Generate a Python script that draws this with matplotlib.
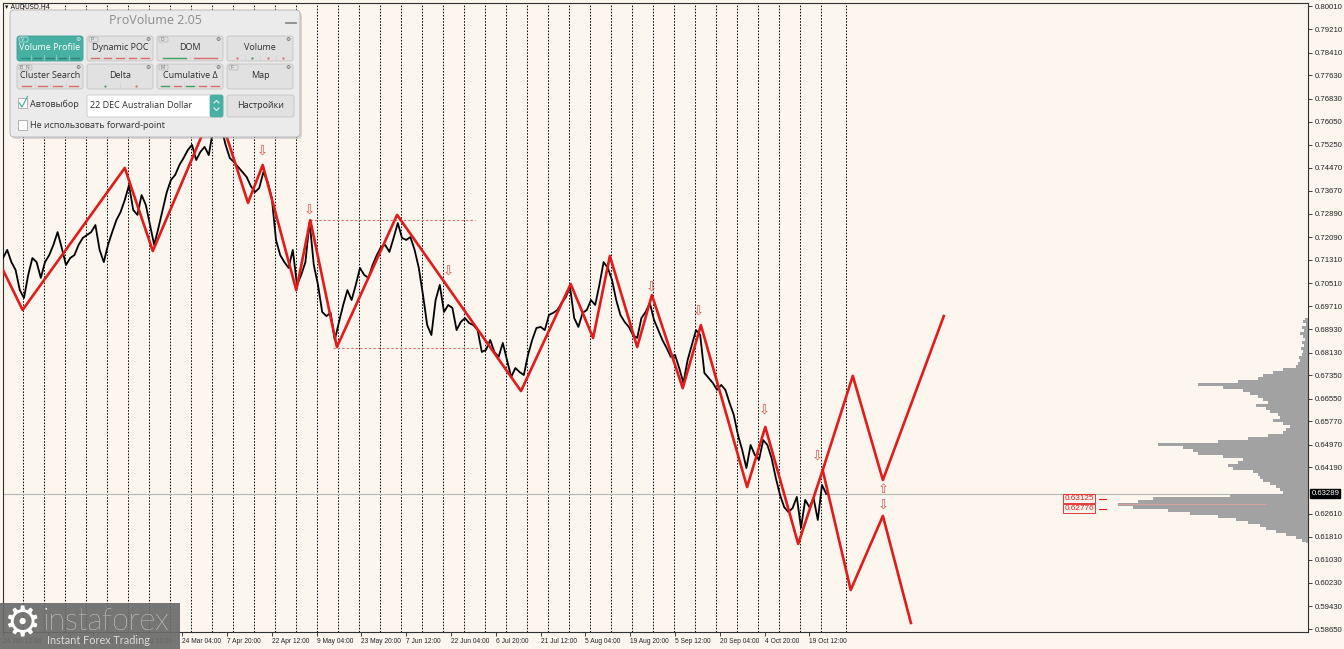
import numpy as np
import matplotlib
matplotlib.use("Agg")
import matplotlib.pyplot as plt
from matplotlib.patches import FancyBboxPatch, Rectangle
import matplotlib.transforms as mtransforms

# ------------------------------------------------------------------ data
symbol_title = "AUDUSD,H4"
bars_per_sample = 6          # one value every 6 H4 bars
price_close = [
    0.7137, 0.7165, 0.7123, 0.7096, 0.7027, 0.7000, 0.7079, 0.7137, 0.7123, 0.7069,
    0.7123, 0.7147, 0.7182, 0.7226, 0.7171, 0.7113, 0.7137, 0.7147, 0.7182, 0.7206,
    0.7216, 0.7226, 0.7250, 0.7165, 0.7123, 0.7182, 0.7226, 0.7267, 0.7295, 0.7336,
    0.7387, 0.7302, 0.7285, 0.7353, 0.7319, 0.7250, 0.7182, 0.7240, 0.7302, 0.7363,
    0.7405, 0.7422, 0.7456, 0.7480, 0.7507, 0.7525, 0.7473, 0.7501, 0.7518, 0.7490,
    0.7576, 0.7658, 0.7583, 0.7525, 0.7480, 0.7466, 0.7449, 0.7432, 0.7415, 0.7384,
    0.7363, 0.7377, 0.7432, 0.7398, 0.7343, 0.7199, 0.7147, 0.7123, 0.7103, 0.7165,
    0.7045, 0.7079, 0.7123, 0.7261, 0.7113, 0.7045, 0.6952, 0.6938, 0.6949, 0.6856,
    0.6918, 0.6976, 0.7027, 0.6993, 0.7045, 0.7103, 0.7079, 0.7069, 0.7113, 0.7147,
    0.7175, 0.7182, 0.7158, 0.7206, 0.7257, 0.7206, 0.7199, 0.7209, 0.7165, 0.7103,
    0.7010, 0.6907, 0.6873, 0.6993, 0.7045, 0.6952, 0.6976, 0.6966, 0.6890, 0.6918,
    0.6931, 0.6914, 0.6907, 0.6890, 0.6815, 0.6822, 0.6856, 0.6815, 0.6798, 0.6846,
    0.6787, 0.6729, 0.6760, 0.6746, 0.6736, 0.6805, 0.6856, 0.6897, 0.6901, 0.6890,
    0.6942, 0.6949, 0.6959, 0.6983, 0.7003, 0.7038, 0.6931, 0.6901, 0.6949, 0.6959,
    0.6993, 0.6976, 0.7045, 0.7123, 0.7103, 0.7062, 0.6993, 0.6942, 0.6918, 0.6901,
    0.6873, 0.6863, 0.6931, 0.6952, 0.6983, 0.6925, 0.6890, 0.6856, 0.6829, 0.6798,
    0.6805, 0.6760, 0.6709, 0.6787, 0.6839, 0.6890, 0.6873, 0.6743, 0.6726, 0.6709,
    0.6685, 0.6702, 0.6685, 0.6640, 0.6599, 0.6530, 0.6479, 0.6417, 0.6496, 0.6462,
    0.6445, 0.6513, 0.6496, 0.6451, 0.6383, 0.6325, 0.6283, 0.6266, 0.6280, 0.6318,
    0.6212, 0.6308, 0.6283, 0.6314, 0.6239, 0.6359, 0.6329,
]

zz_bars = [0, 28, 174, 214, 304, 350, 371, 419, 439, 477, 563, 740, 811, 843,
           867, 906, 927, 971, 997, 1063, 1089, 1136, 1171]
zz_prices = [0.7096, 0.6959, 0.7446, 0.7161, 0.7669, 0.7326, 0.7456, 0.7027,
             0.7267, 0.6832, 0.7285, 0.6681, 0.7048, 0.6863, 0.7144, 0.6832,
             0.7010, 0.6691, 0.6907, 0.6352, 0.6558, 0.6157, 0.6410]

proj_up_bars = [1171, 1214, 1257, 1344]
proj_up_prices = [0.6410, 0.6733, 0.6376, 0.6938]
proj_dn_bars = [1171, 1211, 1257, 1297]
proj_dn_prices = [0.6410, 0.5999, 0.6253, 0.5886]

signal_down_bars = [370, 437, 636, 926, 993, 1087, 1164, 1257]
signal_down_prices = [0.7501, 0.7298, 0.7089, 0.7034, 0.6952, 0.6613, 0.6455, 0.6287]
signal_up_bars = [1257]
signal_up_prices = [0.6342]

level_prices = [0.7267, 0.6828]
level_start_bars = [439, 471]
level_end_bars = [674, 681]

week_first_sep = 28
week_bars = 30
week_last_sep = 1204

date_labels = ["24 Jan 12:00", "8 Feb 04:00", "22 Feb 20:00", "9 Mar 12:00",
               "24 Mar 04:00", "7 Apr 20:00", "22 Apr 12:00", "9 May 04:00",
               "23 May 20:00", "7 Jun 12:00", "22 Jun 04:00", "6 Jul 20:00",
               "21 Jul 12:00", "5 Aug 04:00", "19 Aug 20:00", "5 Sep 12:00",
               "20 Sep 04:00", "4 Oct 20:00", "19 Oct 12:00"]
date_label_step = 64

price_ticks = [0.80010, 0.79210, 0.78410, 0.77630, 0.76830, 0.76050, 0.75250,
               0.74470, 0.73670, 0.72890, 0.72090, 0.71310, 0.70510, 0.69710,
               0.68930, 0.68130, 0.67350, 0.66550, 0.65770, 0.64970, 0.64190,
               0.62610, 0.61810, 0.61030, 0.60230, 0.59430, 0.58650]

current_price = 0.63289
marked_levels = [0.63125, 0.62776]

profile_top = 0.6931
profile_bottom = 0.6160
profile_vol = [3, 5, 2, 6, 4, 8, 5, 3, 6, 4, 7, 5, 6, 9, 8, 10, 12, 25, 35, 45,
               50, 70, 110, 85, 65, 58, 50, 45, 40, 52, 42, 38, 30, 28, 35, 25,
               18, 22, 25, 40, 60, 90, 150, 125, 115, 110, 85, 65, 70, 80, 75,
               55, 50, 48, 45, 38, 32, 28, 25, 78, 155, 170, 190, 175, 140, 118,
               90, 72, 60, 48, 42, 32, 22, 12, 6, 2]

panel_title = "ProVolume 2.05"
panel_buttons = ["Volume Profile", "Dynamic POC", "DOM", "Volume",
                 "Cluster Search", "Delta", "Cumulative Δ", "Map"]
panel_tags = ["V", "P", "D", "", "B  N", "", "M", "F"]

# ------------------------------------------------------------------ style
BG = "#fdf6ef"
RED = "#e31b1b"
W, H = 1344, 649
PX_PER_BAR = 0.7

plt.rcParams["font.family"] = ["Liberation Sans", "DejaVu Sans"]

fig = plt.figure(figsize=(W / 100, H / 100), dpi=100, facecolor=BG)
ax = fig.add_axes([3 / W, 17 / H, 1305 / W, 629 / H], facecolor=BG)
xmax = 1305 / PX_PER_BAR
ax.set_xlim(0, xmax)
ax.set_ylim(0.58550, 0.80113)

for s in ax.spines.values():
    s.set_color("#303030")
    s.set_linewidth(0.8)

# weekly separators
for b in list(range(week_first_sep, 1180, week_bars)) + [week_last_sep]:
    ax.axvline(b, color="black", lw=0.7, ls=(0, (1.6, 1.6)), zorder=1)

# current price line
ax.axhline(current_price, color="#b5b5b5", lw=0.8, zorder=1)

# volume profile
levels = np.linspace(profile_top, profile_bottom, len(profile_vol))
vol = np.array(profile_vol, dtype=float)
left = xmax - vol / PX_PER_BAR
ax.fill_betweenx(levels, left, xmax, step="mid", color="#a2a2a2", lw=0, zorder=2)
ipoc = int(np.argmax(vol))
ax.plot([left[ipoc], xmax - 60], [levels[ipoc]] * 2, color="#d9a0a0", lw=0.8, zorder=2)

# price
xs = np.arange(len(price_close)) * bars_per_sample
ax.plot(xs, price_close, color="black", lw=1.3, zorder=3)

# level lines
for p, b0, b1 in zip(level_prices, level_start_bars, level_end_bars):
    ax.plot([b0, b1], [p, p], color="#e06a6a", lw=0.8, ls=(0, (2, 2)), zorder=3)

# zigzag + projections
ax.plot(zz_bars, zz_prices, color=RED, lw=1.9, zorder=4, solid_joinstyle="round")
ax.plot(proj_up_bars, proj_up_prices, color=RED, lw=1.9, zorder=4, solid_joinstyle="round")
ax.plot(proj_dn_bars, proj_dn_prices, color=RED, lw=1.9, zorder=4, solid_joinstyle="round")

# signal arrows
for b, p in zip(signal_down_bars, signal_down_prices):
    ax.text(b, p, "\u21e9", color="#e8504a", fontsize=9.5, ha="center", va="center",
            family="DejaVu Sans", zorder=5)
for b, p in zip(signal_up_bars, signal_up_prices):
    ax.text(b, p, "\u21e7", color="#e8504a", fontsize=9.5, ha="center", va="center",
            family="DejaVu Sans", zorder=5)

# marked levels
for p in marked_levels:
    ax.text(1516, p, f"{p:.5f}", color=RED, fontsize=5.9, ha="left", va="center",
            zorder=6, bbox=dict(boxstyle="square,pad=0.12", fc=BG, ec=RED, lw=0.6))
    ax.plot([1566, 1576], [p, p], color=RED, lw=0.8, zorder=6)

# axes ticks
ax.yaxis.tick_right()
ax.set_yticks(price_ticks)
ax.set_yticklabels([f"{v:.5f}" for v in price_ticks])
ax.set_xticks(np.arange(len(date_labels)) * date_label_step)
ax.set_xticklabels(date_labels)
for t in ax.get_xticklabels():
    t.set_horizontalalignment("left")
ax.tick_params(axis="y", direction="out", length=3, width=0.6, colors="#222222",
               labelsize=5.6, pad=2)
ax.tick_params(axis="x", direction="out", length=3, width=0.6, colors="#222222",
               labelsize=4.8, pad=1.5)

trans = mtransforms.blended_transform_factory(ax.transAxes, ax.transData)
ax.text(1.0025, current_price, f"{current_price:.5f}", transform=trans, color="white",
        fontsize=5.6, ha="left", va="center", zorder=7, clip_on=False,
        bbox=dict(boxstyle="square,pad=0.15", fc="black", ec="black"))

# ------------------------------------------------------------------ overlay (panel, logo)
ov = fig.add_axes([0, 0, 1, 1])
ov.set_xlim(0, W)
ov.set_ylim(H, 0)
ov.axis("off")


def rbox(x0, y0, x1, y1, fc, ec, lw=0.6, r=2.5, z=10, alpha=1.0):
    ov.add_patch(FancyBboxPatch((x0, y0), x1 - x0, y1 - y0,
                                boxstyle=f"round,pad=0,rounding_size={r}",
                                fc=fc, ec=ec, lw=lw, zorder=z, alpha=alpha))


ov.text(5, 7, "\u25be " + symbol_title, fontsize=4.8, color="#111111", va="center",
        ha="left", family="DejaVu Sans", zorder=9)

# panel
rbox(12, 12, 302, 139, "#9a9a9a", "none", r=4, z=9, alpha=0.35)
rbox(10, 10, 300, 137, "#ebebeb", "#b9b9b9", lw=0.7, r=4, z=10)
ov.text(155, 20, panel_title, fontsize=9, color="#8c8c8c", ha="center", va="center",
        family="Open Sans", zorder=12)
ov.plot([286, 296], [23, 23], color="#8a8a8a", lw=1.3, zorder=12)

col_x = [17, 87, 157, 227]
row_y = [36, 64]
TEAL = "#47b0a3"
GREEN = "#3f9f5f"
PINK = "#d96b6b"
indicators = [
    ("dash", ["#2d8a7e", "#2f7f75", "#2f7f75", "#2f7f75", "#2f7f75"]),
    ("dash", [PINK] * 5),
    ("line", [GREEN, PINK]),
    ("dot", [PINK, GREEN, PINK, PINK]),
    ("dash", [PINK] * 4),
    ("dot", [GREEN, PINK]),
    ("dash", [GREEN, PINK, GREEN, PINK, PINK]),
    ("none", []),
]
for k, (name, tag, ind) in enumerate(zip(panel_buttons, panel_tags, indicators)):
    x0 = col_x[k % 4]
    y0 = row_y[k // 4]
    x1 = x0 + 66
    y1 = y0 + 25
    active = k == 0
    rbox(x0, y0, x1, y1, TEAL if active else "#e1e1e1",
         "#3f9e92" if active else "#c3c3c3", lw=0.6, r=2.5, z=11)
    if tag:
        tw = 5 + 4 * len(tag.replace(" ", ""))
        rbox(x0 + 2, y0 + 1, x0 + 2 + tw, y0 + 6, "none",
             "#e8f5f3" if active else "#a8a8a8", lw=0.4, r=1.2, z=12)
        ov.text(x0 + 3.5, y0 + 3.6, tag, fontsize=3.6,
                color="#f4f4f4" if active else "#777777", ha="left", va="center", zorder=13)
    ov.text(x1 - 5, y0 + 3.5, "\u2699", fontsize=4.2, color="#f0f0f0" if active else "#555555",
            ha="center", va="center", family="DejaVu Sans", zorder=13)
    ov.text((x0 + x1) / 2, y0 + 12, name, fontsize=6.5,
            color="white" if active else "#2e2e2e", ha="center", va="center",
            family=["Open Sans", "DejaVu Sans"], zorder=13)
    kind, cols = ind
    n = len(cols)
    if n:
        seg = (x1 - x0 - 4) / n
        yy = y0 + 21.5
        for j, c in enumerate(cols):
            cx = x0 + 2 + seg * (j + 0.5)
            if kind == "dash":
                ov.plot([cx - seg * 0.3, cx + seg * 0.3], [yy, yy], color=c, lw=1.0, zorder=13)
            elif kind == "line":
                ov.plot([cx - seg * 0.38, cx + seg * 0.38], [yy, yy], color=c, lw=1.0, zorder=13)
            elif kind == "dot":
                ov.plot([cx], [yy], marker="o", ms=1.6, color=c, mec="none", zorder=13)
            if j > 0:
                ov.plot([x0 + 2 + seg * j] * 2, [yy - 2.5, yy + 2], color="#cfcfcf",
                        lw=0.4, zorder=12)

# checkbox row 1
ov.add_patch(Rectangle((18, 98), 9, 10, fc="white", ec="#a8a8a8", lw=0.6, zorder=12))
ov.plot([19.5, 22, 27.5], [103, 107, 96.5], color=TEAL, lw=0.9, zorder=13)
ov.text(30, 104, "Автовыбор", fontsize=6.5, color="#2e2e2e", ha="left", va="center",
        family=["Open Sans", "DejaVu Sans"], zorder=13)
rbox(87, 95, 223, 117, "white", "#c8c8c8", lw=0.6, r=2, z=11)
ov.text(90, 106, "22 DEC Australian Dollar", fontsize=6.5, color="#2e2e2e",
        ha="left", va="center", family=["Open Sans", "DejaVu Sans"], zorder=13)
rbox(210, 95, 223, 117, TEAL, TEAL, lw=0.5, r=2, z=12)
ov.plot([214, 216.5, 219], [103, 100.5, 103], color="white", lw=0.7, zorder=13)
ov.plot([214, 216.5, 219], [108, 110.5, 108], color="white", lw=0.7, zorder=13)
rbox(227, 95, 294, 117, "#e1e1e1", "#c3c3c3", lw=0.6, r=2.5, z=11)
ov.text(260.5, 106, "Настройки", fontsize=6.5, color="#2e2e2e", ha="center", va="center",
        family=["Open Sans", "DejaVu Sans"], zorder=13)
# checkbox row 2
ov.add_patch(Rectangle((18, 120), 9, 10, fc="white", ec="#a8a8a8", lw=0.6, zorder=12))
ov.text(30, 125.5, "Не использовать forward-point", fontsize=6.5, color="#2e2e2e",
        ha="left", va="center", family=["Open Sans", "DejaVu Sans"], zorder=13)

# logo
ov.add_patch(Rectangle((0, 603), 180, 46, fc="#6b6b6b", ec="none", alpha=0.92, zorder=20))
ov.text(22, 624, "\u2699", fontsize=30, color="white", ha="center", va="center",
        family="DejaVu Sans", zorder=21)
ov.text(43, 621, "instaforex", fontsize=22, color="white", ha="left", va="center",
        family=["Lato", "DejaVu Sans"], fontweight="light", zorder=21)
ov.text(47, 640, "Instant Forex Trading", fontsize=7.8, color="#dddddd", ha="left",
        va="center", family=["Lato", "DejaVu Sans"], zorder=21)

fig.savefig("out.png", dpi=100, facecolor=BG)
